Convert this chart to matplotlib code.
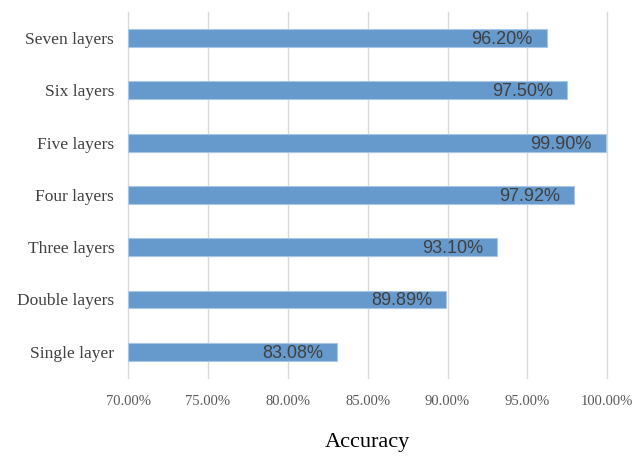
import matplotlib
matplotlib.use("Agg")
import matplotlib.pyplot as plt
from matplotlib.ticker import FuncFormatter

categories = ["Single layer", "Double layers", "Three layers", "Four layers",
              "Five layers", "Six layers", "Seven layers"]
accuracy = [83.08, 89.89, 93.10, 97.92, 99.90, 97.50, 96.20]
xticks = [70, 75, 80, 85, 90, 95, 100]

fig = plt.figure(figsize=(6.35, 4.57), dpi=100)
ax = fig.add_axes([0.2016, 0.173, 0.7548, 0.801])

ypos = list(range(len(categories)))
ax.barh(ypos, [a - 70 for a in accuracy], left=70, height=0.34,
        color="#6699cc", edgecolor="#a8c6e8", linewidth=0.8, zorder=3)

for y, a in zip(ypos, accuracy):
    ax.annotate(f"{a:.2f}%", xy=(a, y), xytext=(-10, -1), textcoords="offset points",
                ha="right", va="center", fontsize=13, color="#404040",
                family=["Liberation Sans", "DejaVu Sans"], zorder=4)

ax.set_xlim(70, 100)
ax.set_ylim(-0.5, 6.5)
ax.set_xticks(xticks)
ax.xaxis.set_major_formatter(FuncFormatter(lambda v, p: f"{v:.2f}%"))
ax.set_yticks(ypos)
ax.set_yticklabels(categories)
for lbl in ax.get_yticklabels():
    lbl.set_family("Liberation Serif")
    lbl.set_fontsize(12.5)
    lbl.set_color("#404040")
for lbl in ax.get_xticklabels():
    lbl.set_family("Liberation Serif")
    lbl.set_fontsize(10.5)
    lbl.set_color("#595959")
ax.tick_params(axis="both", length=0)
ax.tick_params(axis="x", pad=12)
ax.tick_params(axis="y", pad=10)
ax.grid(axis="x", color="#d9d9d9", linewidth=1.0, zorder=0)
for gl in ax.get_xgridlines():
    gl.set_clip_on(False)
for s in ax.spines.values():
    s.set_visible(False)
ax.set_xlabel("Accuracy", family="Liberation Serif", fontsize=16, color="black", labelpad=18)

fig.savefig("out.png", dpi=100)
